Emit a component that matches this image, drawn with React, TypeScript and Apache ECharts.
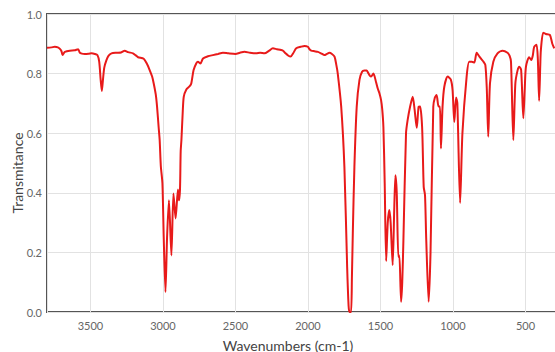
import React, { useEffect, useRef } from "react";
import * as echarts from "echarts";

const wavenumbers: number[] = [
  3800, 3770, 3746, 3725, 3711, 3700, 3693, 3685, 3677, 3643, 3610, 3585, 3574, 3560, 3539, 3510,
  3493, 3470, 3452, 3440, 3430, 3422, 3414, 3405, 3390, 3375, 3355, 3320, 3290, 3264, 3240, 3207,
  3190, 3172, 3133, 3110, 3092, 3075, 3064, 3050, 3041, 3030, 3023, 3015, 3004, 2995, 2983, 2972,
  2959, 2942, 2928, 2913, 2897, 2890, 2883, 2878, 2873, 2865, 2857, 2839, 2816, 2805, 2789, 2770,
  2759, 2742, 2724, 2690, 2656, 2620, 2587, 2550, 2500, 2470, 2437, 2400, 2357, 2330, 2300, 2270,
  2242, 2215, 2185, 2170, 2155, 2135, 2120, 2100, 2081, 2050, 2024, 2001, 1990, 1978, 1955, 1932,
  1910, 1886, 1870, 1852, 1835, 1817, 1805, 1795, 1771, 1749, 1730, 1720, 1714, 1703, 1697, 1691,
  1680, 1664, 1645, 1627, 1611, 1595, 1588, 1572, 1565, 1549, 1530, 1519, 1508, 1496, 1488, 1480,
  1471, 1461, 1450, 1439, 1430, 1416, 1405, 1397, 1388, 1377, 1370, 1358, 1350, 1342, 1324, 1313,
  1296, 1278, 1265, 1250, 1237, 1227, 1213, 1202, 1193, 1185, 1168, 1155, 1136, 1125, 1113, 1100,
  1090, 1083, 1072, 1060, 1037, 1015, 1003, 991, 979, 970, 951, 935, 906, 888, 870, 853,
  837, 822, 807, 790, 777, 767, 757, 745, 722, 693, 658, 624, 610, 600, 584, 570,
  555, 543, 530, 515, 505, 497, 475, 460, 450, 440, 424, 415, 406, 398, 394, 378,
  360, 332, 315, 302,
];

const transmittance: number[] = [
  0.887, 0.888, 0.89, 0.888, 0.883, 0.875, 0.862, 0.868, 0.873, 0.877, 0.878, 0.882, 0.87, 0.867, 0.866, 0.867,
  0.868, 0.866, 0.862, 0.84, 0.78, 0.742, 0.78, 0.82, 0.845, 0.86, 0.868, 0.87, 0.871, 0.877, 0.872, 0.868,
  0.862, 0.855, 0.85, 0.832, 0.812, 0.79, 0.767, 0.73, 0.689, 0.62, 0.577, 0.49, 0.432, 0.25, 0.067, 0.25,
  0.375, 0.19, 0.398, 0.314, 0.411, 0.375, 0.409, 0.54, 0.577, 0.66, 0.722, 0.747, 0.758, 0.767, 0.812, 0.835,
  0.84, 0.834, 0.851, 0.858, 0.862, 0.866, 0.87, 0.868, 0.866, 0.87, 0.873, 0.87, 0.868, 0.87, 0.868, 0.876,
  0.885, 0.882, 0.879, 0.876, 0.868, 0.86, 0.857, 0.87, 0.885, 0.89, 0.893, 0.89, 0.882, 0.877, 0.875, 0.873,
  0.868, 0.862, 0.866, 0.87, 0.866, 0.857, 0.83, 0.801, 0.689, 0.487, 0.151, 0.02, 0.0, 0.0, 0.12, 0.264,
  0.487, 0.689, 0.779, 0.806, 0.81, 0.81, 0.805, 0.792, 0.79, 0.8, 0.77, 0.75, 0.735, 0.711, 0.68, 0.621,
  0.432, 0.171, 0.3, 0.342, 0.3, 0.157, 0.35, 0.459, 0.4, 0.185, 0.19, 0.034, 0.1, 0.241, 0.6, 0.644,
  0.689, 0.722, 0.68, 0.618, 0.689, 0.69, 0.62, 0.42, 0.392, 0.25, 0.034, 0.2, 0.689, 0.72, 0.728, 0.69,
  0.69, 0.549, 0.69, 0.756, 0.79, 0.78, 0.745, 0.638, 0.72, 0.7, 0.366, 0.6, 0.79, 0.84, 0.84, 0.837,
  0.87, 0.86, 0.85, 0.84, 0.829, 0.75, 0.588, 0.767, 0.84, 0.868, 0.877, 0.87, 0.86, 0.84, 0.577, 0.767,
  0.81, 0.823, 0.812, 0.65, 0.75, 0.823, 0.855, 0.846, 0.86, 0.89, 0.897, 0.85, 0.709, 0.83, 0.879, 0.937,
  0.933, 0.93, 0.9, 0.885,
];

const xTitle = "Wavenumbers (cm-1)";
const yTitle = "Transmitance";

export default function App() {
  const ref = useRef<HTMLDivElement>(null);
  useEffect(() => {
    if (!ref.current) return;
    const chart = echarts.init(ref.current, undefined, { renderer: "svg" });
    const data = wavenumbers.map((w, i) => [w, transmittance[i]]);
    const font = "Lato";
    chart.setOption({
      animation: false,
      backgroundColor: "#ffffff",
      grid: {
        left: 47,
        right: 2,
        top: 14,
        bottom: 40,
        show: true,
        borderColor: "#555",
        borderWidth: 2,
        backgroundColor: "transparent",
      },
      xAxis: {
        type: "value",
        inverse: true,
        min: 0,
        max: 3800,
        interval: 500,
        axisLine: { show: false },
        axisTick: { show: false },
        axisLabel: {
          showMaxLabel: false,
          showMinLabel: false,
          color: "#666",
          fontFamily: font,
          fontSize: 11,
          margin: 8,
          formatter: (v: number) => String(v),
        },
        splitLine: { show: true, lineStyle: { color: "#e2e2e2", width: 1 } },
      },
      yAxis: {
        type: "value",
        min: 0,
        max: 1,
        interval: 0.2,
        axisLine: { show: false },
        axisTick: { show: false },
        axisLabel: {
          color: "#666",
          fontFamily: font,
          fontSize: 11,
          margin: 5,
          formatter: (v: number) => v.toFixed(1),
        },
        splitLine: { show: true, lineStyle: { color: "#e2e2e2", width: 1 } },
      },
      graphic: [
        {
          type: "text",
          x: 288,
          y: 345,
          style: {
            text: xTitle,
            fill: "#444",
            font: `14px ${font}`,
            align: "center",
            verticalAlign: "middle",
          },
        },
        {
          type: "text",
          x: 17.5,
          y: 173,
          rotation: Math.PI / 2,
          style: {
            text: yTitle,
            fill: "#444",
            font: `14px ${font}`,
            align: "center",
            verticalAlign: "middle",
          },
        },
      ],
      series: [
        {
          type: "line",
          data,
          showSymbol: false,
          symbol: "none",
          smooth: 0.25,
          clip: true,
          lineStyle: { color: "#e81a1a", width: 2 },
        },
      ],
    });
    return () => chart.dispose();
  }, []);
  return (
    <div
      style={{
        position: "absolute",
        left: 0,
        top: 0,
        width: 555,
        height: 352,
        overflow: "hidden",
        background: "#fff",
      }}
    >
      <div ref={ref} style={{ width: 600, height: 352 }} />
    </div>
  );
}
